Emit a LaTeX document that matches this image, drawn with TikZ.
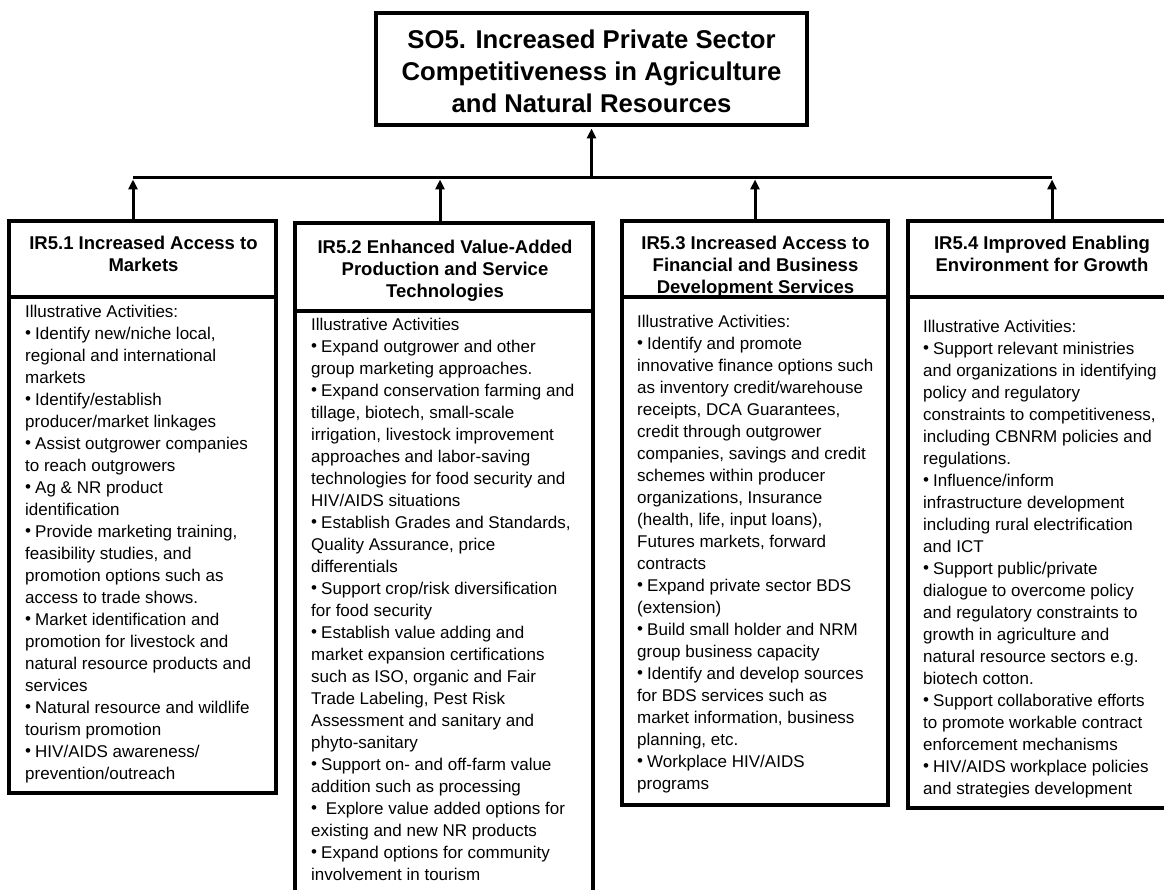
\documentclass[tikz,border=0pt]{standalone}
\usepackage{fontspec}
\setmainfont{Liberation Sans}
\usetikzlibrary{arrows.meta}
\newcommand{\bul}{\makebox[10pt][l]{\raisebox{0.8pt}{\textbullet}}}
\begin{document}
\begin{tikzpicture}[x=1pt,y=-1pt,
  box/.style={draw, line width=3.5pt, inner sep=0pt, rectangle},
  titletext/.style={font=\fontsize{25.7}{31.7}\selectfont\bfseries, align=center, inner sep=0pt, anchor=north},
  headtext/.style={font=\fontsize{18.5}{22}\selectfont\bfseries, align=center, inner sep=0pt, anchor=north},
  bodytext/.style={font=\fontsize{17}{22}\selectfont, align=left, inner sep=0pt, anchor=north west},
  link/.style={line width=3.5pt},
  up/.style={line width=3pt, -{Triangle[length=10pt,width=9pt]}, shorten >=1.75pt},
]
\useasboundingbox (0,0) rectangle (1164,890);
\fill[white] (0,0) rectangle (1164,890);
\begin{scope}
\clip (0,0) rectangle (1164,890);

% strategic objective
\node[box, minimum width=431pt, minimum height=112pt] (so5) at (591.5,69) {};
\node[titletext] (so5t) at (591.5,26.3) {\strut SO5. Increased Private Sector\\Competitiveness in Agriculture\\and Natural Resources};

% intermediate results: header and activity boxes
\node[box, minimum width=267pt, minimum height=76pt] (h1) at (142.5,259) {};
\node[box, minimum width=267pt, minimum height=496pt] (b1) at (142.5,545) {};
\node[box, minimum width=298pt, minimum height=88pt] (h2) at (444,267) {};
\node[box, minimum width=298pt, minimum height=585pt] (b2) at (444,603.5) {};
\node[box, minimum width=266pt, minimum height=76pt] (h3) at (755,259) {};
\node[box, minimum width=266pt, minimum height=508pt] (b3) at (755,551) {};
\node[box, minimum width=268pt, minimum height=76pt] (h4) at (1042,259) {};
\node[box, minimum width=268pt, minimum height=511pt] (b4) at (1042,552.5) {};

% header titles
\node[headtext] (h1t) at (143.5,233.6) {\strut IR5.1 Increased Access to\\Markets};
\node[headtext] (h2t) at (445,237.6) {\strut IR5.2 Enhanced Value-Added\\Production and Service\\Technologies};
\node[headtext] (h3t) at (755.5,233.6) {\strut IR5.3 Increased Access to\\Financial and Business\\Development Services};
\node[headtext] (h4t) at (1042,233.6) {\strut IR5.4 Improved Enabling\\Environment for Growth};

% activity lists
\node[bodytext] (b1t) at (25,302.1) {\strut Illustrative Activities:\\
\bul Identify new/niche local,\\
regional and international\\
markets\\
\bul Identify/establish\\
producer/market linkages\\
\bul Assist outgrower companies\\
to reach outgrowers\\
\bul Ag \& NR product\\
identification\\
\bul Provide marketing training,\\
feasibility studies, and\\
promotion options such as\\
access to trade shows.\\
\bul Market identification and\\
promotion for livestock and\\
natural resource products and\\
services\\
\bul Natural resource and wildlife\\
tourism promotion\\
\bul HIV/AIDS awareness/\\
prevention/outreach};

\node[bodytext] (b2t) at (311,315.1) {\strut Illustrative Activities\\
\bul Expand outgrower and other\\
group marketing approaches.\\
\bul Expand conservation farming and\\
tillage, biotech, small-scale\\
irrigation, livestock improvement\\
approaches and labor-saving\\
technologies for food security and\\
HIV/AIDS situations\\
\bul Establish Grades and Standards,\\
Quality Assurance, price\\
differentials\\
\bul Support crop/risk diversification\\
for food security\\
\bul Establish value adding and\\
market expansion certifications\\
such as ISO, organic and Fair\\
Trade Labeling, Pest Risk\\
Assessment and sanitary and\\
phyto-sanitary\\
\bul Support on- and off-farm value\\
addition such as processing\\
\bul\ Explore value added options for\\
existing and new NR products\\
\bul Expand options for community\\
involvement in tourism};

\node[bodytext] (b3t) at (637,312.1) {\strut Illustrative Activities:\\
\bul Identify and promote\\
innovative finance options such\\
as inventory credit/warehouse\\
receipts, DCA Guarantees,\\
credit through outgrower\\
companies, savings and credit\\
schemes within producer\\
organizations, Insurance\\
(health, life, input loans),\\
Futures markets, forward\\
contracts\\
\bul Expand private sector BDS\\
(extension)\\
\bul Build small holder and NRM\\
group business capacity\\
\bul Identify and develop sources\\
for BDS services such as\\
market information, business\\
planning, etc.\\
\bul Workplace HIV/AIDS\\
programs};

\node[bodytext] (b4t) at (923,317.1) {\strut Illustrative Activities:\\
\bul Support relevant ministries\\
and organizations in identifying\\
policy and regulatory\\
constraints to competitiveness,\\
including CBNRM policies and\\
regulations.\\
\bul Influence/inform\\
infrastructure development\\
including rural electrification\\
and ICT\\
\bul Support public/private\\
dialogue to overcome policy\\
and regulatory constraints to\\
growth in agriculture and\\
natural resource sectors e.g.\\
biotech cotton.\\
\bul Support collaborative efforts\\
to promote workable contract\\
enforcement mechanisms\\
\bul HIV/AIDS workplace policies\\
and strategies development};

% connectors
\path (so5.south) ++(0,51) coordinate (bus);
\path (h1.north) ++(-9.5,0) coordinate (t1);
\path (h2.north) ++(-4,0) coordinate (t2);
\path (h3.north) coordinate (t3);
\path (h4.north) ++(10,0) coordinate (t4);
\draw[link] (t1 |- bus) -- (t4 |- bus);
\draw[up] (bus) -- (so5.south);
\foreach \t in {t1,t2,t3,t4} \draw[up] (\t) -- (\t |- bus);
\end{scope}
\end{tikzpicture}
\end{document}
